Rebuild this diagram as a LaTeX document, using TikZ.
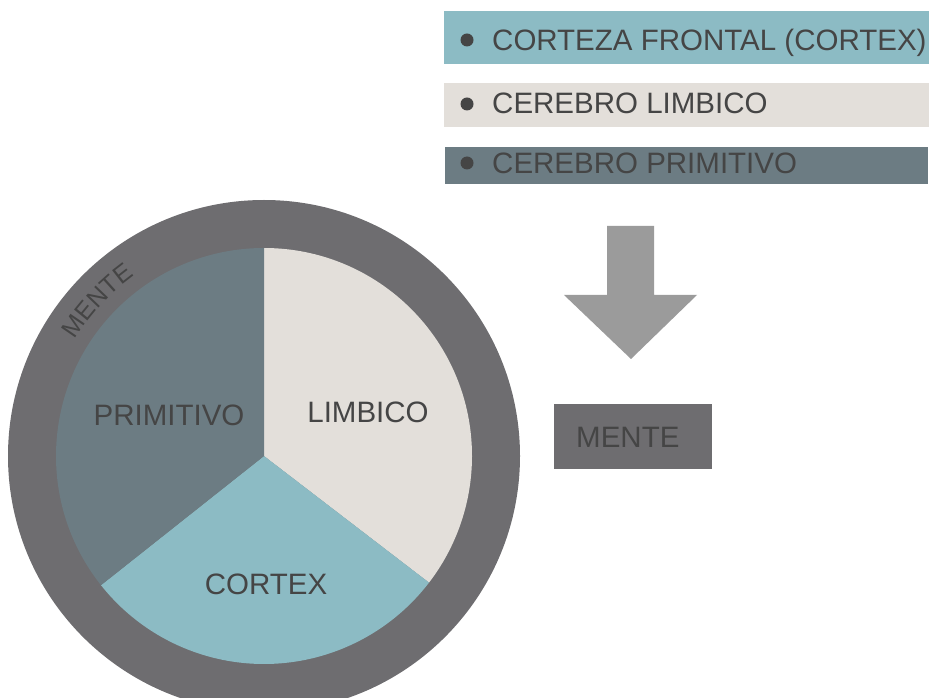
\documentclass[tikz,border=0pt]{standalone}
\usepackage{fontspec}
\setmainfont{Liberation Sans}
\usetikzlibrary{decorations.text}

\definecolor{ringgray}{HTML}{6E6D70}
\definecolor{cortexteal}{HTML}{8CBBC4}
\definecolor{limbicbeige}{HTML}{E3DFDA}
\definecolor{primslate}{HTML}{6C7C83}
\definecolor{arrowgray}{HTML}{9B9B9B}
\definecolor{txtgray}{HTML}{454545}

\begin{document}
\begin{tikzpicture}[x=1pt, y=1pt,
    lbl/.style={inner sep=0pt, text=txtgray, font=\fontsize{29.5}{34}\selectfont, text height=21pt, text depth=0pt},
    bar/.style={rectangle, anchor=west, inner sep=0pt, draw=none},
    dot/.style={circle, fill=txtgray, minimum size=13pt, inner sep=0pt}]
  \useasboundingbox (0,0) rectangle (929,697);
  \clip (0,0) rectangle (929,697);

  % legend bars
  \node[bar, fill=cortexteal, minimum width=485pt, minimum height=53pt] at (444,659.5) (cortexbar) {};
  \node[bar, fill=limbicbeige, minimum width=485pt, minimum height=44pt] at (444,592) (limbicbar) {};
  \node[bar, fill=primslate, minimum width=483pt, minimum height=37pt] at (445,531.5) (primbar) {};
  \node[dot] at (467,657) (cortexdot) {};
  \node[dot] at (467,593) (limbicdot) {};
  \node[dot] at (467,534) (primdot) {};
  \node[lbl, anchor=west] at (492,656.5) (cortextxt) {CORTEZA FRONTAL (CORTEX)};
  \node[lbl, anchor=west] at (492,594) (limbictxt) {CEREBRO LIMBICO};
  \node[lbl, anchor=west] at (492,534) (primtxt) {CEREBRO PRIMITIVO};

  % mind circle
  \coordinate (c) at (264,241);
  \fill[ringgray] (c) circle (256pt);
  \fill[limbicbeige] (c) -- ++(90:208pt) arc (90:-37.5:208pt) -- cycle;
  \fill[cortexteal] (c) -- ++(-37.5:208pt) arc (-37.5:-141.6:208pt) -- cycle;
  \fill[primslate] (c) -- ++(218.4:208pt) arc (218.4:90:208pt) -- cycle;
  \node[lbl] at (169,282.5) (primlbl) {PRIMITIVO};
  \node[lbl] at (368,285) (limbiclbl) {LIMBICO};
  \node[lbl] at (266,113) (cortexlbl) {CORTEX};
  \path[decorate, decoration={text along path, text align=center,
      text={|\fontsize{25}{29}\selectfont\color{txtgray}|MENTE}}]
    (c) ++(164:222pt) arc (164:110:222pt);

  % arrow and result
  \fill[arrowgray] (607,471) -- (654,471) -- (654,402) -- (697,402) -- (631,338)
    -- (564,402) -- (607,402) -- cycle;
  \node[lbl, anchor=west, fill=ringgray, inner xsep=22pt, text width=114pt, align=left,
    minimum height=65pt] at (554,260.5) (mentebox) {MENTE};
\end{tikzpicture}
\end{document}
